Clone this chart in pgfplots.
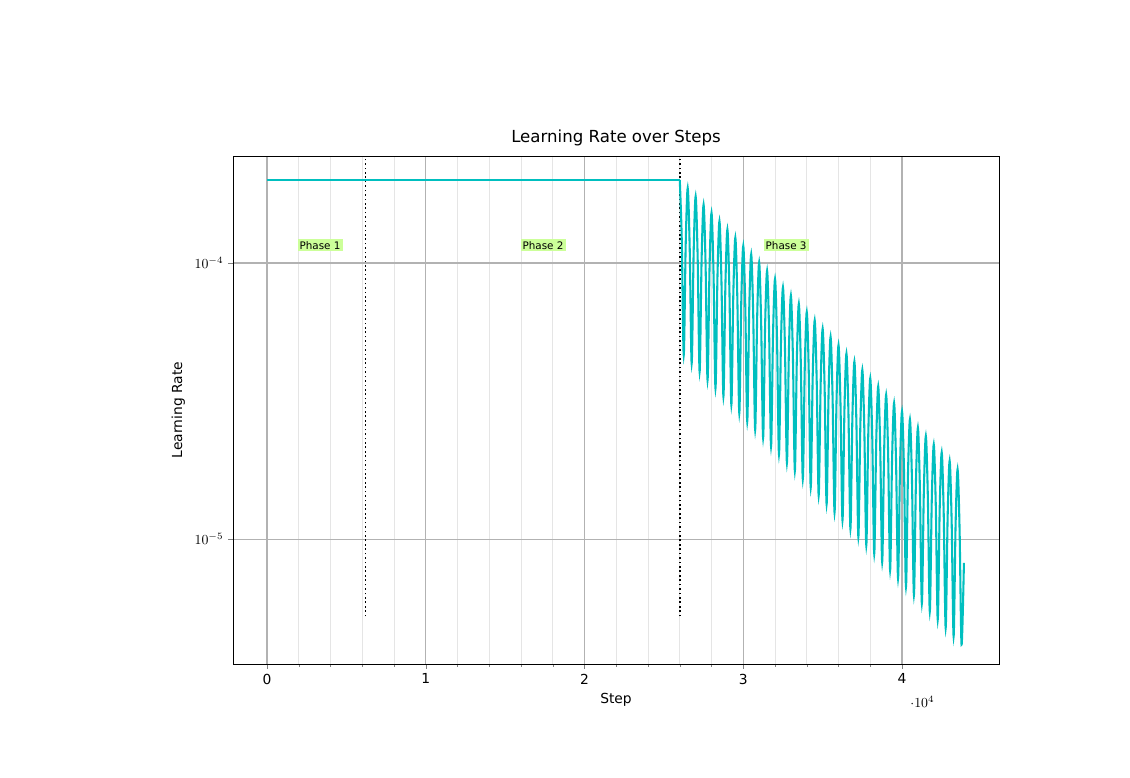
\documentclass[border=0pt]{standalone}
\usepackage{pgfplots}
\pgfplotsset{compat=1.18}
\usepackage{fontspec}
\setmainfont{DejaVu Sans}
\definecolor{lr}{RGB}{0,191,191}
\definecolor{pg}{RGB}{204,255,153}
\begin{document}
\begin{tikzpicture}
\begin{axis}[
  scale only axis, width=7.66in, height=5.08in,
  clip=false,
  ymode=log, log basis y=10,
  xmin=-2142, xmax=46110, ymin=3.53e-6, ymax=2.44e-4,
  xtick={0,10000,20000,30000,40000},
  minor x tick num=4,
  ytick={1e-5,1e-4},
  xticklabel={\pgfmathprintnumber[assume math mode=true,1000 sep={}]{\tick}},
  tick align=outside, tick pos=left,
  major tick length=3.5pt, minor tick length=2pt,
  grid=both,
  major grid style={gray!60, line width=0.8pt},
  minor grid style={gray!20, line width=0.6pt},
  tick label style={font=\fontsize{10}{12}\selectfont},
  label style={font=\fontsize{10}{12}\selectfont},
  title style={font=\fontsize{12}{14}\selectfont, yshift=-2pt},
  title={Learning Rate over Steps},
  xlabel={Step}, ylabel={Learning Rate},
]
\path (rel axis cs:-0.3042,-0.2244) rectangle (rel axis cs:1.1710,1.3071);
\addplot[black, dotted, line width=1.2pt, forget plot] coordinates {(6200,5.25e-6)(6200,2.44e-4)};
\addplot[black, dotted, line width=1.2pt, forget plot] coordinates {(26000,5.25e-6)(26000,2.44e-4)};
\addplot[lr, line width=1.5pt] coordinates {(0,200e-6)(26000,200e-6)};
\addplot[lr, line width=1.5pt, smooth, tension=0.5] coordinates {
(26000,200e-6)(26125,121.9e-6)(26250,46.4e-6)(26375,117.8e-6)
(26500,186.7e-6)(26625,113.8e-6)(26750,43.3e-6)(26875,109.9e-6)
(27000,174.2e-6)(27125,106.2e-6)(27250,40.4e-6)(27375,102.6e-6)
(27500,162.6e-6)(27625,99.1e-6)(27750,37.7e-6)(27875,95.8e-6)
(28000,151.8e-6)(28125,92.5e-6)(28250,35.2e-6)(28375,89.4e-6)
(28500,141.7e-6)(28625,86.3e-6)(28750,32.9e-6)(28875,83.4e-6)
(29000,132.2e-6)(29125,80.6e-6)(29250,30.7e-6)(29375,77.9e-6)
(29500,123.4e-6)(29625,75.2e-6)(29750,28.6e-6)(29875,72.7e-6)
(30000,115.2e-6)(30125,70.2e-6)(30250,26.7e-6)(30375,67.8e-6)
(30500,107.5e-6)(30625,65.5e-6)(30750,24.9e-6)(30875,63.3e-6)
(31000,100.4e-6)(31125,61.2e-6)(31250,23.3e-6)(31375,59.1e-6)
(31500,93.7e-6)(31625,57.1e-6)(31750,21.7e-6)(31875,55.2e-6)
(32000,87.4e-6)(32125,53.3e-6)(32250,20.3e-6)(32375,51.5e-6)
(32500,81.6e-6)(32625,49.7e-6)(32750,18.9e-6)(32875,48.1e-6)
(33000,76.2e-6)(33125,46.4e-6)(33250,17.7e-6)(33375,44.9e-6)
(33500,71.1e-6)(33625,43.3e-6)(33750,16.5e-6)(33875,41.9e-6)
(34000,66.4e-6)(34125,40.4e-6)(34250,15.4e-6)(34375,39.1e-6)
(34500,61.9e-6)(34625,37.7e-6)(34750,14.4e-6)(34875,36.5e-6)
(35000,57.8e-6)(35125,35.2e-6)(35250,13.4e-6)(35375,34.0e-6)
(35500,54.0e-6)(35625,32.9e-6)(35750,12.5e-6)(35875,31.8e-6)
(36000,50.4e-6)(36125,30.7e-6)(36250,11.7e-6)(36375,29.7e-6)
(36500,47.0e-6)(36625,28.6e-6)(36750,10.9e-6)(36875,27.7e-6)
(37000,43.9e-6)(37125,26.7e-6)(37250,10.2e-6)(37375,25.8e-6)
(37500,41.0e-6)(37625,25.0e-6)(37750,9.50e-6)(37875,24.1e-6)
(38000,38.2e-6)(38125,23.3e-6)(38250,8.86e-6)(38375,22.5e-6)
(38500,35.7e-6)(38625,21.7e-6)(38750,8.27e-6)(38875,21.0e-6)
(39000,33.3e-6)(39125,20.3e-6)(39250,7.72e-6)(39375,19.6e-6)
(39500,31.1e-6)(39625,18.9e-6)(39750,7.21e-6)(39875,18.3e-6)
(40000,29.0e-6)(40125,17.7e-6)(40250,6.73e-6)(40375,17.1e-6)
(40500,27.1e-6)(40625,16.5e-6)(40750,6.28e-6)(40875,15.9e-6)
(41000,25.3e-6)(41125,15.4e-6)(41250,5.86e-6)(41375,14.9e-6)
(41500,23.6e-6)(41625,14.4e-6)(41750,5.47e-6)(41875,13.9e-6)
(42000,22.0e-6)(42125,13.4e-6)(42250,5.11e-6)(42375,13.0e-6)
(42500,20.6e-6)(42625,12.5e-6)(42750,4.77e-6)(42875,12.1e-6)
(43000,19.2e-6)(43125,11.7e-6)(43250,4.45e-6)(43375,11.3e-6)
(43500,17.9e-6)(43625,10.9e-6)(43750,4.15e-6)(43900,8.2e-6)
};
\node[fill=pg, inner sep=1.5pt, font=\fontsize{7.5}{9}\selectfont] at (axis cs:3340,1.16e-4) {Phase 1};
\node[fill=pg, inner sep=1.5pt, font=\fontsize{7.5}{9}\selectfont] at (axis cs:17390,1.16e-4) {Phase 2};
\node[fill=pg, inner sep=1.5pt, font=\fontsize{7.5}{9}\selectfont] at (axis cs:32700,1.16e-4) {Phase 3};
\end{axis}
\end{tikzpicture}
\end{document}
